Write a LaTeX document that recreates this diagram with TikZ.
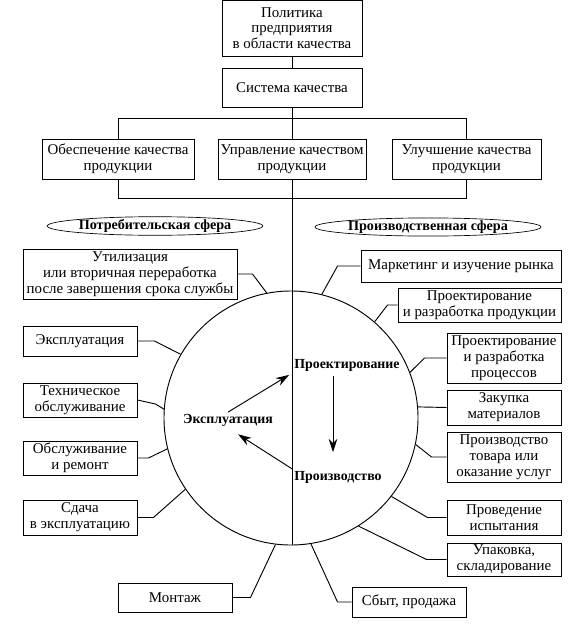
\documentclass[tikz,border=0pt]{standalone}
\usepackage{fontspec}
\setmainfont{Liberation Serif}
\usetikzlibrary{positioning}
\usetikzlibrary{calc}
\usetikzlibrary{arrows.meta}
\usetikzlibrary{shapes.geometric}
\tikzset{
	every path/.style={line width=0.7pt},
	box/.style={draw,align=center,inner sep=1pt,font=\fontsize{11.2}{11.8}\selectfont},
	oval/.style={draw,ellipse,line width=0.5pt,inner sep=0pt,minimum width=150pt,minimum height=13.5pt,font=\bfseries\fontsize{10.6}{11}\selectfont},
	stage/.style={inner sep=1pt,font=\bfseries\fontsize{10.4}{12}\selectfont},
	pil/.style={-{Stealth[length=10pt,width=6.5pt]}},
}

\begin{document}
\begin{tikzpicture}[x=0.75pt,y=-0.75pt]
			\useasboundingbox (0,0) rectangle (569,625);
			
			% top blocks...................
			\node [box, minimum width=105pt, minimum height=42pt] (pol) at (292,28) {Политика\\предприятия\\в области качества};
			\node [box, minimum width=105pt, minimum height=29.25pt] (sys) at (292,87.5) {Система качества};
			\draw (pol.south) to (sys.north);
			
			% three directions.....................
			\node [box, minimum width=114pt, minimum height=30pt] (obesp) at (118,159) {Обеспечение качества\\продукции};
			\node [box, minimum width=111pt, minimum height=30pt] (upr) at (292,159) {Управление качеством\\продукции};
			\node [box, minimum width=111.75pt, minimum height=30pt] (ulu) at (466.5,159) {Улучшение качества\\продукции};
			\draw (sys.south) to (upr.north);
			\draw (obesp.north) -- ++(0,-20) -| (ulu.north);
			\draw (obesp.south) -- ++(0,19) -| (ulu.south);
			
			% spheres.......................
			\node [oval] (potr) at (155,226) {Потребительская сфера};
			\node [oval] (proizv) at (428,227) {Производственная сфера};
			
			% circle and dividing line.....................
			\node [draw, circle, minimum size=190.5pt, inner sep=0pt] (circ) at (291,418) {};
			\coordinate (spine) at (292,545);
			\draw (upr.south) to (spine);
			
			% consumer side..........................
			\node [box, minimum width=160.5pt, minimum height=37.5pt] (util) at (130,274) {Утилизация\\или вторичная переработка\\после завершения срока службы};
			\node [box, minimum width=85.5pt, minimum height=22.5pt] (expl) at (80,341) {Эксплуатация};
			\node [box, minimum width=85.5pt, minimum height=25.5pt] (tech) at (80,400) {Техническое\\обслуживание};
			\node [box, minimum width=85.5pt, minimum height=25.5pt] (obsl) at (80,458) {Обслуживание\\и ремонт};
			\node [box, minimum width=85.5pt, minimum height=26.25pt] (sdacha) at (80,517.5) {Сдача\\в эксплуатацию};
			\node [box, minimum width=85.5pt, minimum height=21.75pt] (montazh) at (175,597.5) {Монтаж};
			\draw (util.east) -- ++(15,0) -- (circ.101);
			\draw (expl.east) -- ++(17,0) -- (circ.150);
			\draw (tech.east) -- ++(18,4) -- (circ.176);
			\draw (obsl.east) -- ++(11,0) -- (circ.194);
			\draw (sdacha.east) -- ++(16,0) -- (circ.214);
			\draw (montazh.east) -- ++(18,0) -- (circ.263);
			
			% production side..........................
			\node [box, minimum width=150pt, minimum height=24pt] (mark) at (461,266) {Маркетинг и изучение рынка};
			\node [box, minimum width=122.25pt, minimum height=25.5pt] (prodp) at (479.5,305) {Проектирование\\и разработка продукции};
			\node [box, minimum width=85.5pt, minimum height=37.5pt] (procp) at (504,358) {Проектирование\\и разработка\\процессов};
			\node [box, minimum width=85.5pt, minimum height=26.25pt] (zak) at (504,407.5) {Закупка\\материалов};
			\node [box, minimum width=85.5pt, minimum height=37.5pt] (tovar) at (504,457) {Производство\\товара или\\оказание услуг};
			\node [box, minimum width=85.5pt, minimum height=26.25pt] (ispyt) at (504,517.5) {Проведение\\испытания};
			\node [box, minimum width=85.5pt, minimum height=24.75pt] (upak) at (504,559.5) {Упаковка,\\складирование};
			\node [box, minimum width=85.5pt, minimum height=22.5pt] (sbyt) at (409,602) {Сбыт, продажа};
			\draw (mark.west) -- ++(-23,0) -- (circ.76);
			\draw (prodp.west) -- ++(-10,0) -- (circ.49);
			\draw (procp.west) -- ++(-22,0) -- (circ.21);
			\draw (zak.west) -- (circ.5);
			\draw (tovar.west) -- ++(-15,0) -- (circ.348);
			\draw (ispyt.west) -- ++(-19,0) -- (circ.322);
			\draw (upak.west) -- ++(-20,0) -- (circ.302);
			\draw (sbyt.west) -- ++(-14,0) -- (circ.279);
			
			% cycle inside the circle.............
			\node [stage] (proekt) at (347,365) {Проектирование};
			\node [stage] (eksp) at (228,420) {Эксплуатация};
			\node [stage] (proizvL) at (338,477) {Производство};
			\draw [pil, shorten >=3pt] (eksp.north) to (proekt.south west);
			\draw [pil, shorten >=9pt] (proizvL.north west) to (eksp.south);
			\draw [pil] ($(proekt.south)+(-14,3)$) to ($(proizvL.north)+(-5,-17)$);
			
		\end{tikzpicture}
\end{document}
